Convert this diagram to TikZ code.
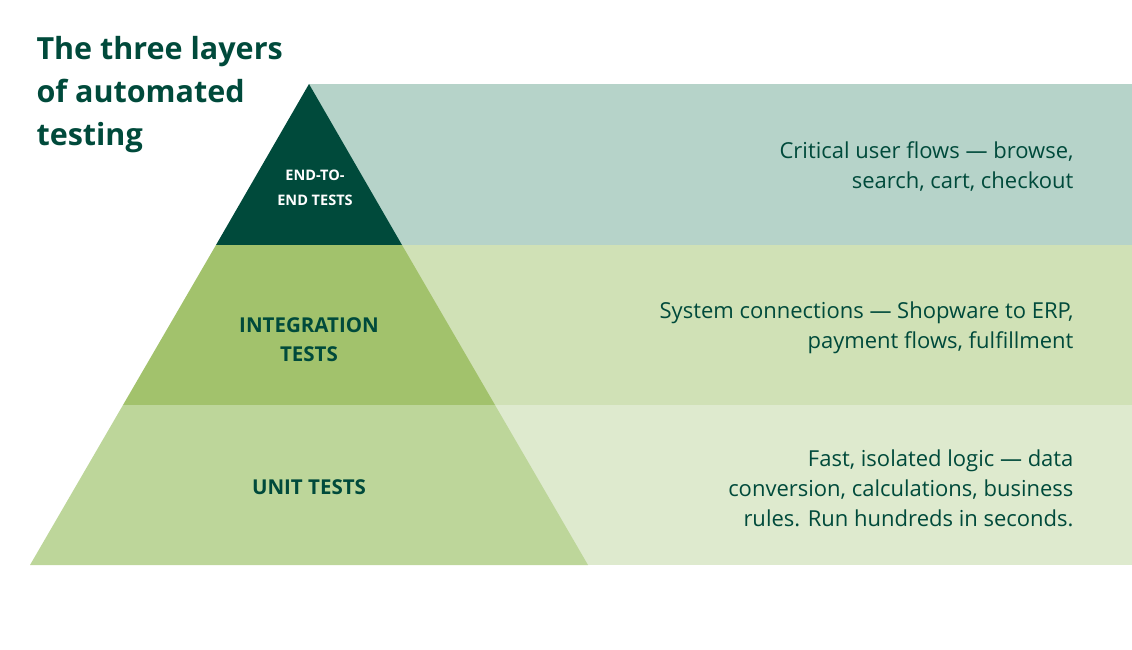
\documentclass[tikz,border=0pt]{standalone}
\usepackage{fontspec}
\setmainfont{Open Sans}
\definecolor{dk}{HTML}{004A3B}
\definecolor{midT}{HTML}{A2C26C}
\definecolor{botT}{HTML}{BDD69A}
\definecolor{topP}{HTML}{B6D3C9}
\definecolor{midP}{HTML}{D0E1B6}
\definecolor{botP}{HTML}{DEEACE}
\tikzset{
  desc/.style={anchor=east,align=right,text=dk,font=\fontsize{22}{30}\selectfont},
  lab/.style={align=center,font=\bfseries\fontsize{20.5}{29}\selectfont},
}
\begin{document}
\begin{tikzpicture}[x=1pt,y=-1pt]
\useasboundingbox (0,0) rectangle (1132,650);
\fill[topP] (309,84) rectangle (1132,245);
\fill[midP] (309,245) rectangle (1132,405);
\fill[botP] (309,405) rectangle (1132,565);
\fill[dk] (309,84) -- (402,245) -- (216,245) -- cycle;
\fill[midT] (216,245) -- (402,245) -- (495,405) -- (123,405) -- cycle;
\fill[botT] (123,405) -- (495,405) -- (588,565) -- (30,565) -- cycle;
\node[anchor=north west,align=left,text=dk,font=\bfseries\fontsize{30.5}{43}\selectfont] (title) at (33,33) {The three layers\\of automated\\testing};
\node[lab,text=white,font=\bfseries\fontsize{14.5}{25}\selectfont] (e2e) at (315,188) {END-TO-\\END TESTS};
\node[lab,text=dk] (int) at (309,340) {INTEGRATION\\TESTS};
\node[lab,text=dk] (unit) at (309,487) {UNIT TESTS};
\node[desc] (d1) at (1077,167) {Critical user flows — browse,\\search, cart, checkout};
\node[desc] (d2) at (1077,328) {System connections — Shopware to ERP,\\payment flows, fulfillment};
\node[desc] (d3) at (1077,488) {Fast, isolated logic — data\\conversion, calculations, business\\rules. Run hundreds in seconds.};
\end{tikzpicture}
\end{document}
